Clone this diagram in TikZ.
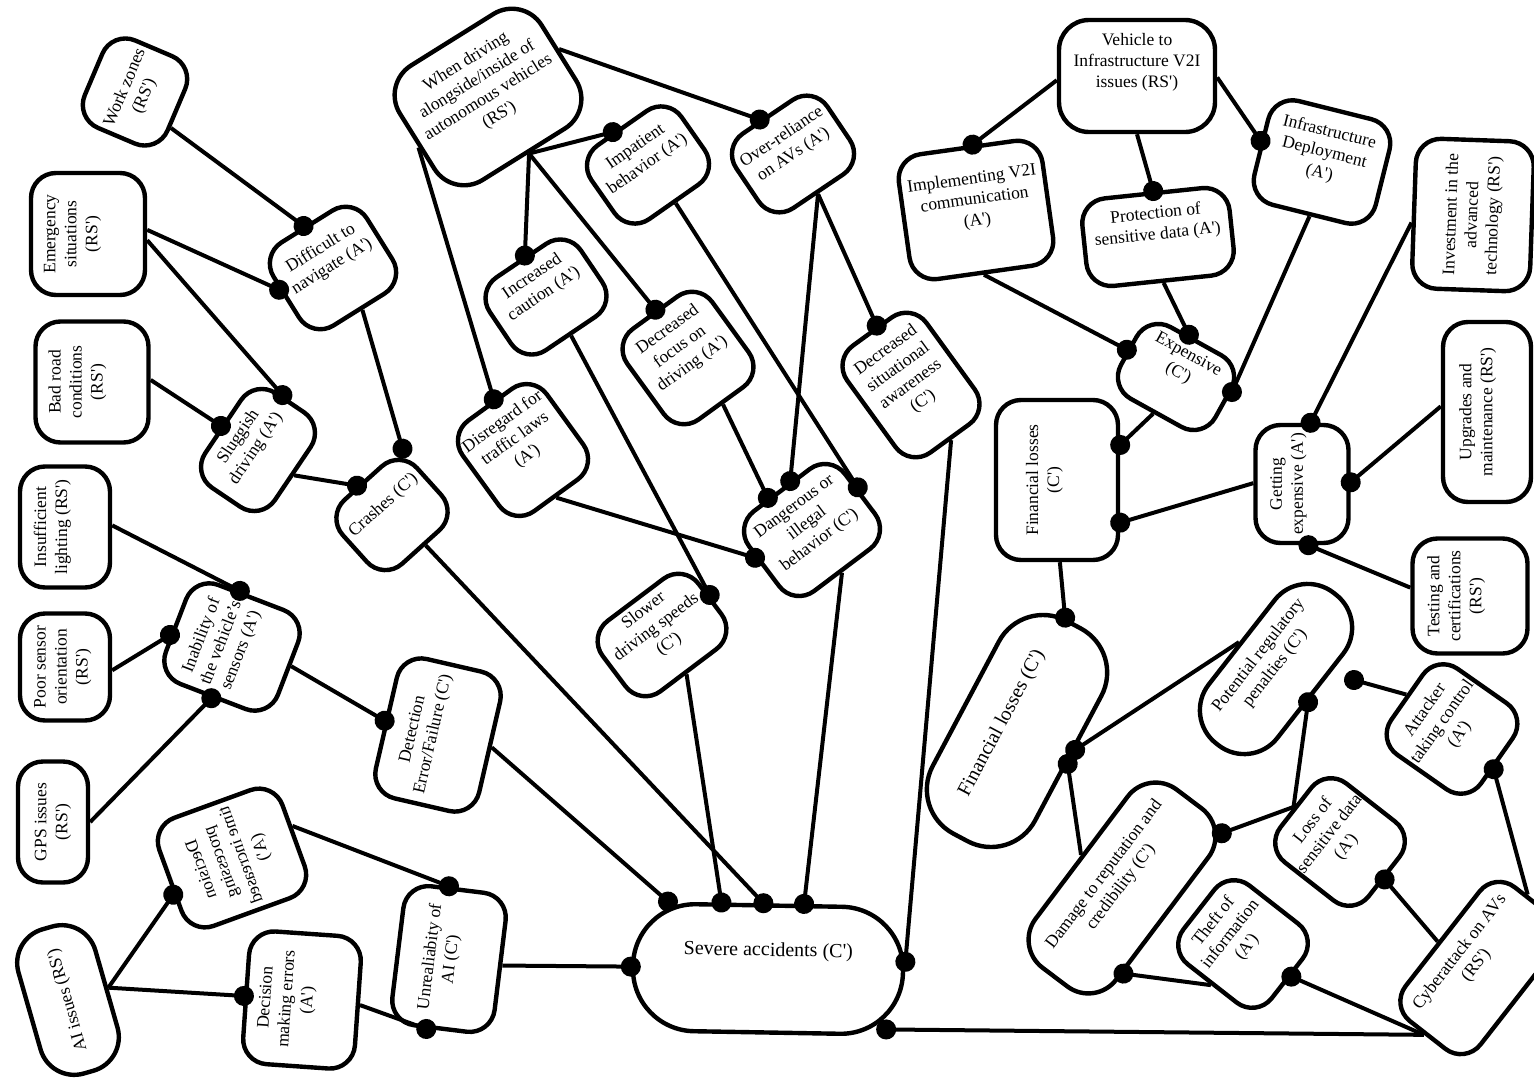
\documentclass[tikz,border=0pt]{standalone}
\usepackage{fontspec}
\setmainfont{Liberation Serif}
\usetikzlibrary{calc,arrows.meta}
\newcommand{\fA}{\fontsize{17.5}{21}\selectfont}
\newcommand{\fB}{\fontsize{20}{24}\selectfont}
\newcommand{\apo}{\textquotesingle}
\newcommand{\dnode}[9][25]{%
  \node[bxs, rounded corners=#1pt, rotate=#4, minimum width=#5pt, minimum height=#6pt] (#2) at (#3) {};
  \node[txs, rotate=#4, font=#8] (#2-t) at ($(#2.center)!#7!(#2.north)$) {#9};
}
\tikzset{
  bxs/.style={draw, fill=white, line width=4.4pt, inner sep=0pt, shape=rectangle},
  txs/.style={align=center, inner sep=0pt, draw=none},
  conn/.style={line width=4pt, -{Circle[length=20pt]}, shorten >=-10pt}
}
\begin{document}
\begin{tikzpicture}[x=1pt, y=-1pt]
\useasboundingbox (0,0) rectangle (1534,1082);
\fill[white] (0,0) rectangle (1534,1082);
\clip (0,0) rectangle (1534,1082);
% ---------- left cluster
\dnode{work}{135,92}{67}{95}{90}{0}{\fA}{Work zones\\(RS\apo)}
\dnode{emerg}{88,234}{90}{122}{114}{0.26}{\fA}{Emergency\\situations\\(RS\apo)}
\dnode{badroad}{92,382}{90}{121}{113}{0.25}{\fA}{Bad road\\conditions\\(RS\apo)}
\dnode{insuff}{65,527}{90}{121}{90}{0.27}{\fA}{Insufficient\\lighting (RS\apo)}
\dnode{poor}{65,667}{90}{107}{90}{0.05}{\fA}{Poor sensor\\orientation\\(RS\apo)}
\dnode{gps}{53,822}{90}{121}{70}{0}{\fA}{GPS issues\\(RS\apo)}
\dnode[35]{ai}{68,1000}{106}{150}{80}{0}{\fA}{AI issues (RS\apo)}
\dnode{difficult}{333,268}{32}{110}{98}{0.24}{\fA}{Difficult to\\navigate (A\apo)}
\dnode{sluggish}{258,450}{56}{114}{84}{0.29}{\fA}{Sluggish\\driving (A\apo)}
\dnode{crashes}{392,515}{42}{100}{86}{0.28}{\fA}{Crashes (C\apo)}
\dnode{inability}{232,647}{69}{106}{120}{0.18}{\fA}{Inability of\\the vehicle's\\sensors (A\apo)}
\dnode{detection}{438,735}{77}{143}{106}{0.27}{\fA}{Detection\\Error/Failure (C\apo)}
\node[bxs, rounded corners=25pt, rotate=-70, minimum width=115pt, minimum height=131pt] (decproc) at (232,858) {};
\node[txs, rotate=-70, yscale=-1, font=\fA] (decproc-t) at (decproc.center) {Decision\\processing\\time increased\\(A\apo)};
\dnode{decerr}{302,1000}{86}{133}{112}{0.25}{\fA}{Decision\\making errors\\(A\apo)}
\dnode{unreli}{449,959}{83}{140}{103}{0.15}{\fA}{Unrealiabity of\\AI (C\apo)}
\dnode[62]{severe}{768,969}{-1}{270}{127}{0.27}{\fB}{Severe accidents (C\apo)}
% ---------- middle cluster
\dnode[35]{when}{488,97}{32}{167}{135}{0.14}{\fA}{When driving\\alongside/inside of\\autonomous vehicles\\(RS\apo)}
\dnode{impatient}{648,165}{35}{110}{90}{0.23}{\fA}{Impatient\\behavior (A\apo)}
\dnode{overrel}{793,154}{34}{110}{90}{0.2}{\fA}{Over-reliance\\on AVs (A\apo)}
\dnode{inccaut}{546,297}{34}{110}{88}{0.3}{\fA}{Increased\\caution (A\apo)}
\dnode{decfocus}{688,358}{36}{105}{112}{0.23}{\fA}{Decreased\\focus on\\driving (A\apo)}
\dnode{disregard}{523,450}{36}{104}{112}{0.23}{\fA}{Disregard for\\traffic laws\\(A\apo)}
\dnode{dangerous}{812,530}{37}{120}{100}{0.15}{\fA}{Dangerous or\\illegal\\behavior (C\apo)}
\dnode{slower}{662,635}{37}{120}{88}{0.2}{\fA}{Slower\\driving speeds\\(C\apo)}
\dnode{decsit}{911,385}{36}{98}{132}{0.16}{\fA}{Decreased\\situational\\awareness\\(C\apo)}
% ---------- right cluster
\dnode[30]{v2i}{1137,76}{0}{156}{112}{0.23}{\fA}{Vehicle to\\Infrastructure V2I\\issues (RS\apo)}
\dnode{implv2i}{976,210}{8}{145}{126}{0.15}{\fA}{Implementing V2I\\communication\\(A\apo)}
\dnode{protect}{1158,237}{6}{148}{88}{0.27}{\fA}{Protection of\\sensitive data (A\apo)}
\dnode{infradep}{1322,162}{-14}{125}{107}{0.17}{\fA}{Infrastructure\\Deployment\\(A\apo)}
\dnode{investment}{1473,215}{88}{150}{118}{0}{\fA}{Investment in the\\advanced\\technology (RS\apo)}
\dnode{expensive}{1176,377}{-29}{108}{82}{0.34}{\fA}{Expensive\\(C\apo)}
\dnode{finsmall}{1057,480}{90}{160}{122}{0.2}{\fA}{Financial losses\\(C\apo)}
\dnode{getting}{1302,484}{90}{118}{93}{0.28}{\fA}{Getting\\expensive (A\apo)}
\dnode{upgrades}{1487,412}{90}{180}{88}{0.2}{\fA}{Upgrades and\\maintenance (RS\apo)}
\dnode{testing}{1470,596}{90}{115}{115}{0.23}{\fA}{Testing and\\certifications\\(RS\apo)}
\dnode[42]{potential}{1276,669}{52}{191}{87}{0.25}{\fA}{Potential regulatory\\penalties (C\apo)}
\dnode[50]{finbig}{1017,731}{62}{241}{116}{0.28}{\fB}{Financial losses (C\apo)}
\dnode[35]{damage}{1122,888}{53}{223}{101}{0.22}{\fA}{Damage to reputation and\\credibility (C\apo)}
\dnode{lossdata}{1340,842}{52}{100}{112}{0.22}{\fA}{Loss of\\sensitive data\\(A\apo)}
\dnode{theft}{1243,944}{52}{100}{112}{0.27}{\fA}{Theft of\\information\\(A\apo)}
\dnode{attacker}{1452,729}{55}{105}{110}{0.2}{\fA}{Attacker\\taking control\\(A\apo)}
\dnode{cyber}{1480,968}{52}{170}{95}{0.3}{\fA}{Cyberattack on AVs\\(RS\apo)}
\coordinate (atkend) at (1354,680);
% ---------- connectors
\draw[conn] (work.248) -- (difficult.93);
\draw[conn] (emerg.274) -- (difficult.170);
\draw[conn] (emerg.264) -- (sluggish.10);
\draw[conn] (badroad.272) -- (sluggish.91);
\draw[conn] (difficult.273) -- (crashes.39);
\draw[conn] (sluggish.269) -- (crashes.98);
\draw[conn] (insuff.272) -- (inability.13);
\draw[conn] (poor.266) -- (inability.100);
\draw[conn] (gps.270) -- (inability.179);
\draw[conn] (inability.273) -- (detection.88);
\draw[conn] (detection.270) -- (severe.147);
\draw[conn] (crashes.276) -- (severe.95);
\draw[conn] (ai.271) -- (decproc.282);
\draw[conn] (ai.271) -- (decerr.90);
\draw[conn] (decproc.98) -- (unreli.7);
\draw[conn] (decerr.269) -- (unreli.169);
\draw[conn] (unreli.270) -- (severe.180);
\draw[conn] (when.2) -- (overrel.100);
\draw[conn] (when.274) -- (impatient.102);
\draw[conn] (when.274) -- (inccaut.83);
\draw[conn] (when.274) -- (decfocus.88);
\draw[conn] (when.184) -- (disregard.84);
\draw[conn] (impatient.271) -- (dangerous.6);
\draw[conn] (overrel.268) -- (dangerous.77);
\draw[conn] (overrel.268) -- (decsit.84);
\draw[conn] (decfocus.271) -- (dangerous.107);
\draw[conn] (disregard.269) -- (dangerous.169);
\draw[conn] (inccaut.269) -- (slower.3);
\draw[conn] (slower.265) -- (severe.126);
\draw[conn] (dangerous.268) -- (severe.62);
\draw[conn] (decsit.270) -- (severe.4);
\draw[conn] (v2i.183) -- (implv2i.85);
\draw[conn] (v2i.270) -- (protect.90);
\draw[conn] (v2i.359) -- (infradep.175);
\draw[conn] (implv2i.269) -- (expensive.180);
\draw[conn] (protect.271) -- (expensive.102);
\draw[conn] (infradep.271) -- (expensive.14);
\draw[conn] (expensive.267) -- (finsmall.299);
\draw[conn] (investment.99) -- (getting.352);
\draw[conn] (upgrades.83) -- (getting.272);
\draw[conn] (testing.82) -- (getting.186);
\draw[conn] (getting.89) -- (finsmall.236);
\draw[conn] (finsmall.182) -- (finbig.5);
\draw[conn] (potential.92) -- (finbig.280);
\draw[conn] (damage.88) -- (finbig.265);
\draw[conn] (lossdata.91) -- (potential.262);
\draw[conn, shorten >=-21pt] (lossdata.91) -- (damage.335);
\draw[conn] (theft.180) -- (damage.218);
\draw[conn] (cyber.178) -- (theft.274);
\draw[conn] (cyber.96) -- (lossdata.268);
\draw[conn] (cyber.5) -- (attacker.261);
\draw[conn] (attacker.88) -- (atkend);
\draw[conn, shorten >=-28pt] (cyber.178) -- (severe.337);
\end{tikzpicture}
\end{document}
